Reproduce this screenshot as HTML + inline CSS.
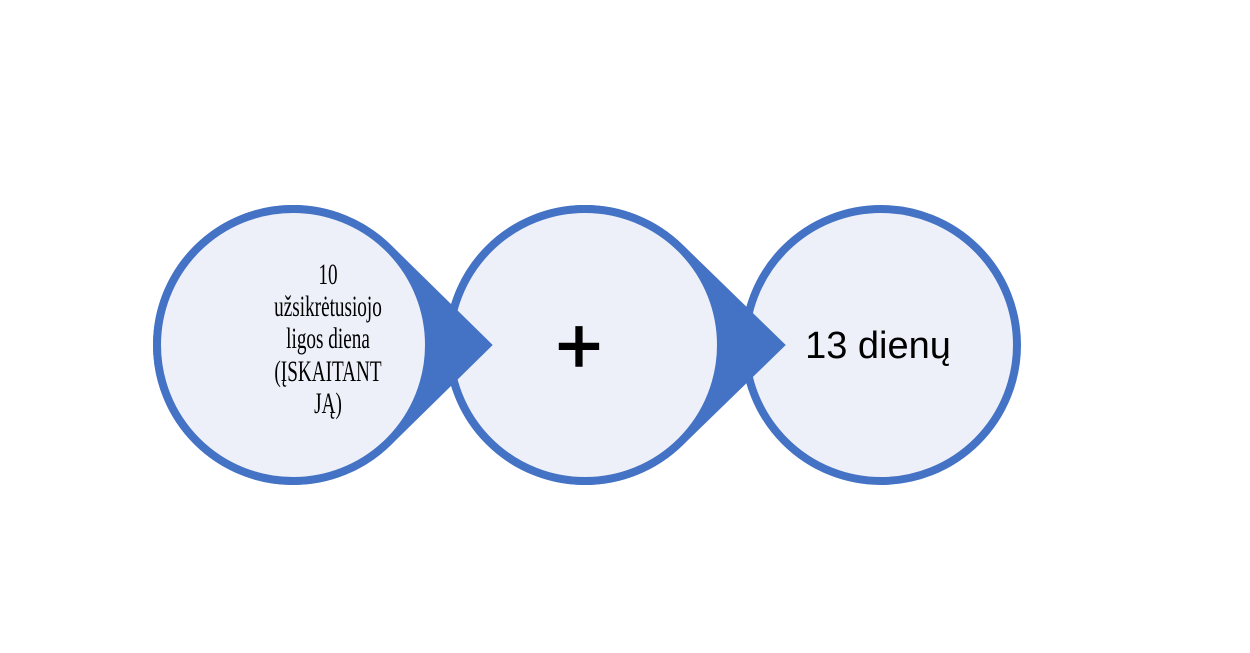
<!DOCTYPE html>
<html><head><meta charset="utf-8"><style>
html,body{margin:0;padding:0;background:#fff;width:1250px;height:653px;overflow:hidden}
</style></head><body>
<svg width="1250" height="653" viewBox="0 0 1250 653" xmlns="http://www.w3.org/2000/svg">
<g stroke="#4472C4" stroke-width="8">
<circle cx="881" cy="345" r="136" fill="#EDF0F8"/>
<path d="M780 345 L679.5 247.2 A136 136 0 1 0 679.5 442.8 Z" fill="#4472C4"/>
<circle cx="585" cy="345" r="136" fill="#EDF0F8"/>
<path d="M487 345 L387.5 247.2 A136 136 0 1 0 387.5 442.8 Z" fill="#4472C4"/>
<circle cx="293" cy="345" r="136" fill="#EDF0F8"/>
</g>
<g transform="translate(328,0) scale(0.64,1)" font-family="Liberation Serif, serif" font-size="30" fill="#000" text-anchor="middle">
<text x="0" y="284">10</text>
<text x="0" y="316">užsikrėtusiojo</text>
<text x="0" y="348">ligos diena</text>
<text x="0" y="381">(ĮSKAITANT</text>
<text x="0" y="413">JĄ)</text>
</g>
<text x="579" y="373" font-family="Liberation Sans, sans-serif" font-size="80" text-anchor="middle" stroke="#000" stroke-width="1.5">+</text>
<text x="878" y="358" font-family="Liberation Sans, sans-serif" font-size="38" text-anchor="middle">13 dienų</text>
</svg>
</body></html>
